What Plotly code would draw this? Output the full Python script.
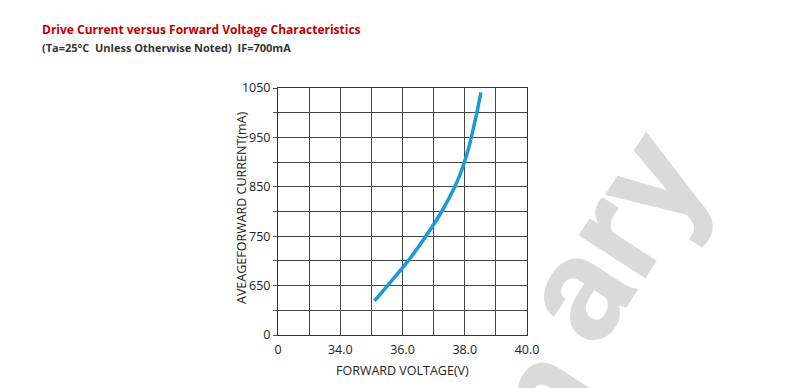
import plotly.graph_objects as go

# Data
voltage = [35.10, 35.52, 36.18, 36.75, 37.26, 37.68, 37.85, 37.99, 38.11, 38.21, 38.30, 38.39, 38.52]
current = [619, 650, 700, 750, 800, 850, 875, 900, 925, 950, 975, 1000, 1041]

x_grid = [32, 33, 34, 35, 36, 37, 38, 39, 40]
x_text = ["0", "", "34.0", "", "36.0", "", "38.0", "", "40.0"]
y_grid = [550, 600, 650, 700, 750, 800, 850, 900, 950, 1000, 1050]
y_text = ["0", "", "650", "", "750", "", "850", "", "950", "", "1050"]

title = "Drive Current versus Forward Voltage Characteristics"
subtitle = "(Ta=25°C  Unless Otherwise Noted)  IF=700mA"
x_title = "FORWARD VOLTAGE(V)"
y_title = "AVEAGEFORWARD CURRENT(mA)"
watermark = ["Prelimin", "ary"]

# page body has an 8px margin; figure is sized so it fits the window
OFF = 8
W, H = 806, 388
L, R, T, B = 278, 527, 88, 335  # plot area in window pixels

def px(x):
    return (x - L) / (R - L)

def py(y):
    return (B - y) / (B - T)

fig = go.Figure()
fig.add_trace(go.Scatter(
    x=voltage, y=current, mode="lines",
    line=dict(color="#1b9ad8", width=3.5, shape="spline", smoothing=1.0),
    showlegend=False, hoverinfo="skip",
))

font_fam = "Open Sans"
fig.update_layout(
    width=W - OFF, height=H - OFF,
    margin=dict(l=L - OFF, r=W - R, t=T - OFF, b=H - B, pad=0),
    paper_bgcolor="white", plot_bgcolor="white",
    font=dict(family=font_fam, size=12.5, color="#222222"),
    xaxis=dict(
        range=[32, 40], tickmode="array", tickvals=x_grid, ticktext=x_text,
        showgrid=True, gridcolor="#444444", gridwidth=1,
        showline=True, linecolor="#333333", linewidth=1, mirror=True,
        ticks="", zeroline=False, ticklabelstandoff=3,
        tickfont=dict(size=12.5, color="#222222"),
    ),
    yaxis=dict(
        range=[550, 1050], tickmode="array", tickvals=y_grid, ticktext=y_text,
        showgrid=True, gridcolor="#444444", gridwidth=1,
        showline=True, linecolor="#333333", linewidth=1, mirror=True,
        ticks="outside", ticklen=4, tickcolor="#555555", zeroline=False,
        tickfont=dict(size=12.5, color="#222222"),
    ),
)

wm_font = dict(family="Roboto", size=150, color="#dadada", weight="bold")
fig.add_annotation(
    text=watermark[0], xref="paper", yref="paper",
    x=px(412), y=py(600), xanchor="center", yanchor="middle",
    showarrow=False, textangle=-57, font=wm_font,
)
fig.add_annotation(
    text=watermark[1], xref="paper", yref="paper",
    x=px(612), y=py(236), xanchor="center", yanchor="middle",
    showarrow=False, textangle=-57, font=wm_font,
)
fig.add_annotation(
    text=x_title, xref="paper", yref="paper",
    x=px(402), y=py(370), xanchor="center", yanchor="middle", showarrow=False,
    font=dict(family=font_fam, size=12.5, color="#222222"),
)
fig.add_annotation(
    text=y_title, xref="paper", yref="paper",
    x=px(241), y=py(208), xanchor="center", yanchor="middle", showarrow=False,
    textangle=-90,
    font=dict(family=font_fam, size=12.5, color="#222222"),
)
fig.add_annotation(
    text="<b>" + title + "</b>", xref="paper", yref="paper",
    x=px(40), y=py(29), xanchor="left", yanchor="middle", showarrow=False,
    font=dict(family=font_fam, size=12, color="#c00000"),
)
fig.add_annotation(
    text="<b>" + subtitle + "</b>", xref="paper", yref="paper",
    x=px(40), y=py(47), xanchor="left", yanchor="middle", showarrow=False,
    font=dict(family=font_fam, size=11, color="#333333"),
)

fig.write_html("out.html")
